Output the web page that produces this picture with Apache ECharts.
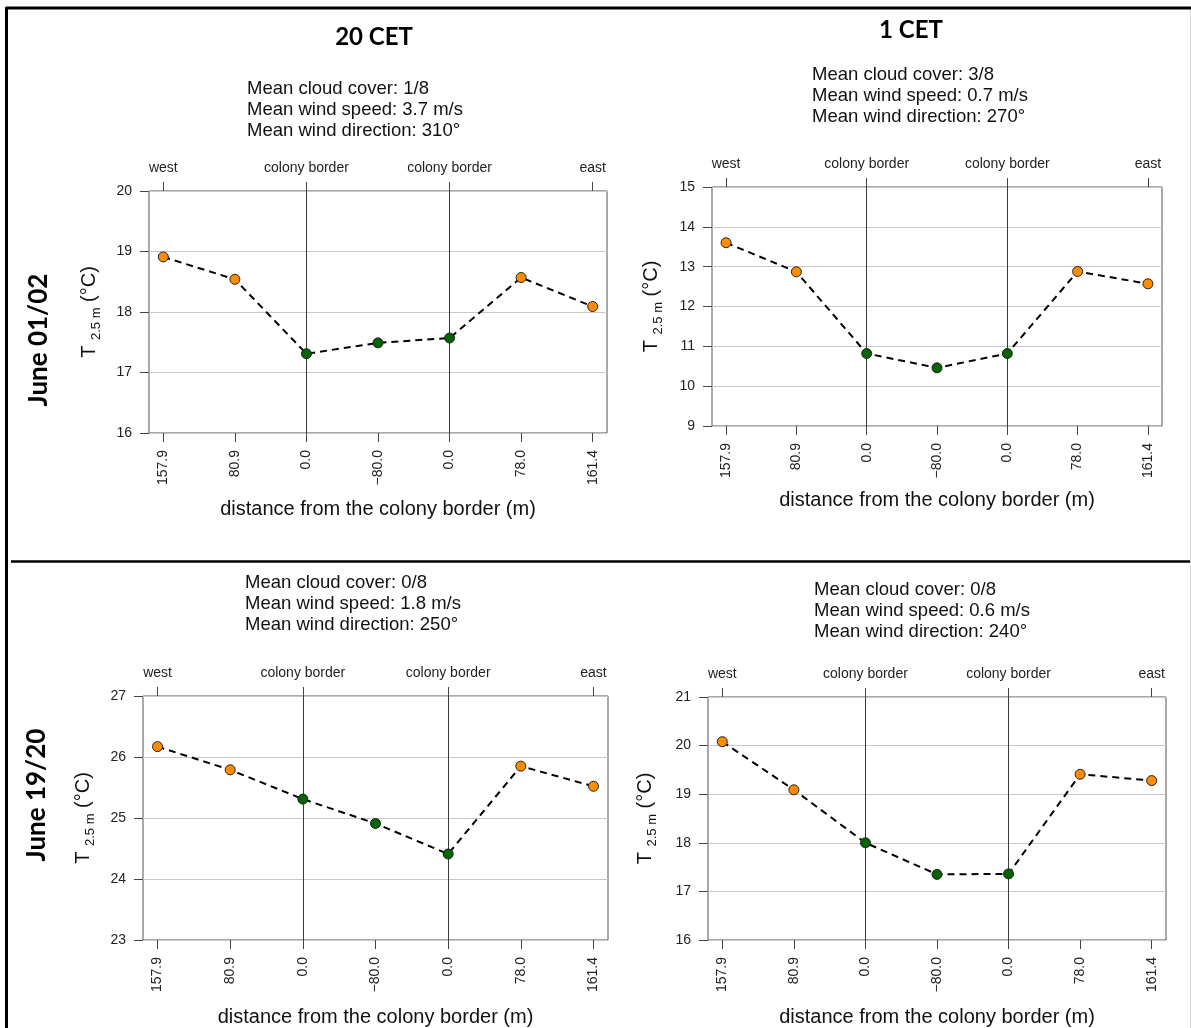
<!DOCTYPE html>
<html>
<head>
<meta charset="utf-8">
<title>Air temperature across the colony border</title>
<script src="https://cdn.jsdelivr.net/npm/echarts@6/dist/echarts.min.js"></script>
<style>
  html, body { margin: 0; padding: 0; background: #fff; }
  #chart { width: 1191px; height: 1028px; }
</style>
</head>
<body>
<div id="chart"></div>
<script>
// Measurement points along the transect (west -> colony -> east)
const positions = [0, 1, 2, 3, 4, 5, 6];
const distanceLabels = ['157.9', '80.9', '0.0', '\u221280.0', '0.0', '78.0', '161.4'];
const inColony = [false, false, true, true, true, false, false];
const sidePositions = [0, 2, 4, 6];
const sideLabels = ['west', 'colony border', 'colony border', 'east'];
const colonyBorderPositions = [2, 4];

// Air temperature at 2.5 m (°C)
const tempJun0102At20 = [18.91, 18.54, 17.31, 17.49, 17.57, 18.57, 18.09];
const tempJun0102At01 = [13.60, 12.87, 10.82, 10.46, 10.82, 12.88, 12.57];
const tempJun1920At20 = [26.17, 25.79, 25.31, 24.91, 24.41, 25.85, 25.52];
const tempJun1920At01 = [20.08, 19.09, 18.00, 17.35, 17.36, 19.41, 19.28];

// y-axis ranges
const yRangeJun0102At20 = [16, 20];
const yRangeJun0102At01 = [9, 15];
const yRangeJun1920At20 = [23, 27];
const yRangeJun1920At01 = [16, 21];

// Weather summary for each night / hour
const infoJun0102At20 = ['Mean cloud cover: 1/8', 'Mean wind speed: 3.7 m/s', 'Mean wind direction: 310\u00b0'];
const infoJun0102At01 = ['Mean cloud cover: 3/8', 'Mean wind speed: 0.7 m/s', 'Mean wind direction: 270\u00b0'];
const infoJun1920At20 = ['Mean cloud cover: 0/8', 'Mean wind speed: 1.8 m/s', 'Mean wind direction: 250\u00b0'];
const infoJun1920At01 = ['Mean cloud cover: 0/8', 'Mean wind speed: 0.6 m/s', 'Mean wind direction: 240\u00b0'];

const columnTitles = ['20 CET', '1 CET'];
const rowTitles = ['June 01/02', 'June 19/20'];

const ORANGE = '#ff8c00';
const GREEN = '#006400';
const SANS = '"Liberation Sans", Arial, sans-serif';
const BOLD = 'Lato, "Open Sans", sans-serif';

const panels = [
  { temps: tempJun0102At20, range: yRangeJun0102At20, info: infoJun0102At20,
    grid: { left: 149, top: 191, width: 458, height: 242 }, nameGap: 46, xNameGap: 66,
    infoPos: [247, 78] },
  { temps: tempJun0102At01, range: yRangeJun0102At01, info: infoJun0102At01,
    grid: { left: 712, top: 187, width: 450, height: 239 }, nameGap: 47, xNameGap: 64,
    infoPos: [812, 64] },
  { temps: tempJun1920At20, range: yRangeJun1920At20, info: infoJun1920At20,
    grid: { left: 143, top: 696, width: 465, height: 245 }, nameGap: 46, xNameGap: 67,
    infoPos: [245, 572] },
  { temps: tempJun1920At01, range: yRangeJun1920At01, info: infoJun1920At01,
    grid: { left: 708, top: 697, width: 458, height: 243 }, nameGap: 49, xNameGap: 67,
    infoPos: [814, 579] }
];

const grids = [], xAxes = [], yAxes = [], series = [];

panels.forEach((p, k) => {
  grids.push(Object.assign({ show: true, borderColor: '#555', borderWidth: 1,
    backgroundColor: 'transparent', containLabel: false }, p.grid));

  // bottom axis: distance from the colony border
  xAxes.push({
    type: 'value', gridIndex: k, position: 'bottom', min: -0.2, max: 6.2,
    axisLine: { show: false },
    axisTick: { show: true, inside: false, customValues: positions, length: 9, lineStyle: { color: '#444' } },
    axisLabel: { show: true, customValues: positions, rotate: 90, margin: 17,
      fontFamily: SANS, fontSize: 14, color: '#222',
      formatter: v => distanceLabels[positions.indexOf(v)] },
    splitLine: { show: false },
    name: 'distance from the colony border (m)', nameLocation: 'middle', nameGap: p.xNameGap,
    nameTextStyle: { fontFamily: SANS, fontSize: 20, color: '#111' }
  });
  // top axis: transect orientation
  xAxes.push({
    type: 'value', gridIndex: k, position: 'top', min: -0.2, max: 6.2,
    axisLine: { show: false },
    axisTick: { show: true, inside: false, customValues: sidePositions, length: 9, lineStyle: { color: '#444' } },
    axisLabel: { show: true, customValues: sidePositions, margin: 16,
      fontFamily: SANS, fontSize: 14, color: '#222',
      formatter: v => sideLabels[sidePositions.indexOf(v)] },
    splitLine: { show: false }
  });

  yAxes.push({
    type: 'value', gridIndex: k, position: 'left', min: p.range[0], max: p.range[1], interval: 1,
    axisLine: { show: false, onZero: false },
    axisTick: { show: true, inside: false, length: 9, lineStyle: { color: '#444' } },
    axisLabel: { inside: false, margin: 17, fontFamily: SANS, fontSize: 14, color: '#222' },
    splitLine: { show: true, lineStyle: { color: '#c8c8c8', width: 1 } },
    name: '{t|T} {s|2.5 m} {t|(\u00b0C)}', nameLocation: 'middle', nameGap: p.nameGap,
    nameTextStyle: {
      fontFamily: SANS, fontSize: 20, color: '#111', lineHeight: 28,
      rich: {
        t: { fontFamily: SANS, fontSize: 20, color: '#111', lineHeight: 28 },
        s: { fontFamily: SANS, fontSize: 13, color: '#111', lineHeight: 18, verticalAlign: 'bottom' }
      }
    }
  });

  series.push({
    type: 'line', xAxisIndex: 2 * k, yAxisIndex: k,
    data: p.temps.map((t, i) => ({
      value: [positions[i], t],
      itemStyle: { color: inColony[i] ? GREEN : ORANGE }
    })),
    symbol: 'circle', symbolSize: 10, showAllSymbol: true,
    lineStyle: { color: '#000', width: 2, type: [7, 5] },
    itemStyle: { borderColor: '#222', borderWidth: 1 },
    emphasis: { disabled: true },
    animation: false,
    z: 5,
    markLine: {
      silent: true, symbol: 'none', animation: false,
      label: { show: false },
      lineStyle: { color: '#3a3a3a', width: 1, type: 'solid' },
      emphasis: { disabled: true },
      data: colonyBorderPositions.map(x => ({ xAxis: x }))
    }
  });
});

// Titles, weather summaries and frame
const graphics = [
  { type: 'text', x: 374, y: 37, style: { text: columnTitles[0], font: 'bold 24px ' + BOLD,
      fill: '#000', align: 'center', verticalAlign: 'middle' } },
  { type: 'text', x: 911, y: 30, style: { text: columnTitles[1], font: 'bold 24px ' + BOLD,
      fill: '#000', align: 'center', verticalAlign: 'middle' } },
  { type: 'text', x: 39, y: 340, rotation: Math.PI / 2, style: { text: rowTitles[0],
      font: 'bold 26px ' + BOLD, fill: '#000', align: 'center', verticalAlign: 'middle' } },
  { type: 'text', x: 37, y: 795, rotation: Math.PI / 2, style: { text: rowTitles[1],
      font: 'bold 26px ' + BOLD, fill: '#000', align: 'center', verticalAlign: 'middle' } },
  // frame lines
  { type: 'line', shape: { x1: 6, y1: 8, x2: 1191, y2: 8 }, style: { stroke: '#000', lineWidth: 3 } },
  { type: 'line', shape: { x1: 6.5, y1: 7, x2: 6.5, y2: 1028 }, style: { stroke: '#000', lineWidth: 3 } },
  { type: 'line', shape: { x1: 11, y1: 561.5, x2: 1191, y2: 561.5 }, style: { stroke: '#000', lineWidth: 2.5 } },
  { type: 'line', shape: { x1: 1190.5, y1: 10, x2: 1190.5, y2: 1028 }, style: { stroke: '#d8d8d8', lineWidth: 1 } }
];
panels.forEach(p => {
  graphics.push({ type: 'text', x: p.infoPos[0], y: p.infoPos[1],
    style: { text: p.info.join('\n'), font: '18.5px ' + SANS, lineHeight: 21.3,
      fill: '#111', align: 'left', verticalAlign: 'top' } });
});

const chart = echarts.init(document.getElementById('chart'), null, { renderer: 'canvas' });
chart.setOption({
  backgroundColor: '#fff',
  animation: false,
  grid: grids,
  xAxis: xAxes,
  yAxis: yAxes,
  series: series,
  graphic: graphics
});
</script>
</body>
</html>
